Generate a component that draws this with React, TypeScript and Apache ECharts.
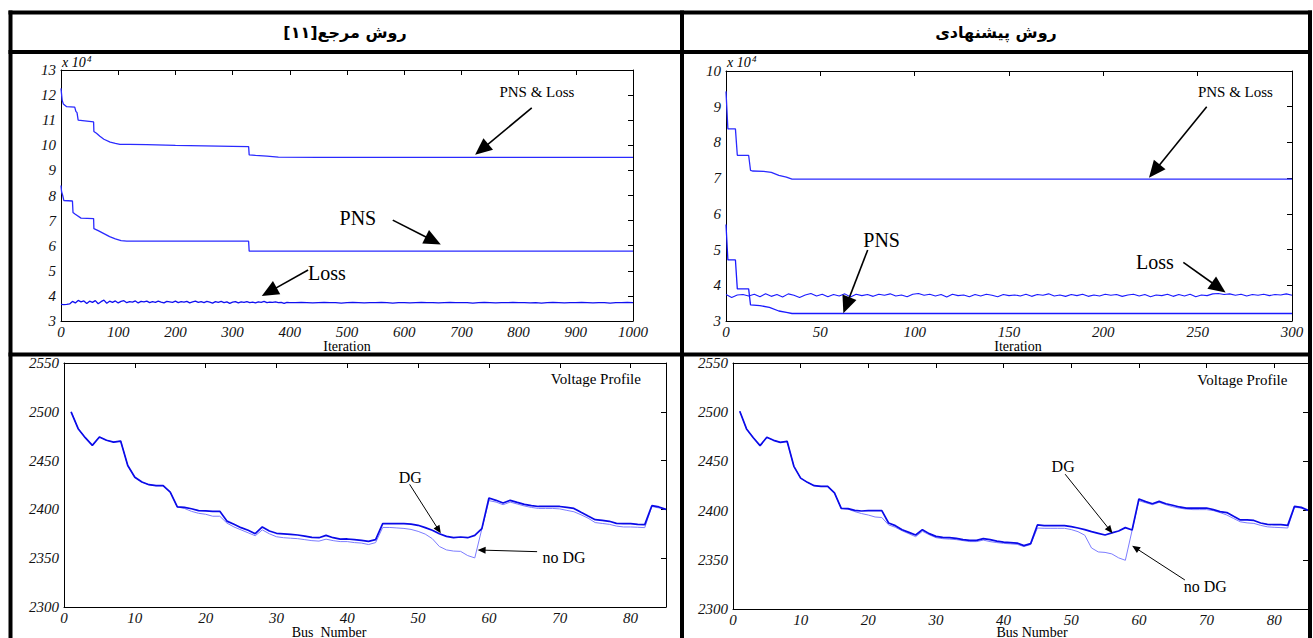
import React, { useEffect, useRef } from "react";
import * as echarts from "echarts";

// ---------- helpers (index generation only) ----------
const range = (a: number, b: number, s: number): number[] => {
  const r: number[] = [];
  for (let v = a; v <= b + 1e-9; v += s) r.push(Math.round(v * 1000) / 1000);
  return r;
};
const zip = (xs: number[], ys: number[]) => xs.map((x, i) => [x, ys[i]]);

// ---------- headers ----------
const headerLeft = "\u202Bروش مرجع[۱۱]\u202C";
const headerRight = "روش پیشنهادی";

// ---------- Top-left: reference method (x 10^4) ----------
const tlTotalIter = [0, 2, 4, 10, 24, 26, 28, 30, 57, 57.5, 62, 68, 75, 86, 95, 103, 120, 150, 200, 250, 300, 328, 329, 340, 360, 380, 450, 1000];
const tlTotalVal = [12.27, 11.8, 11.65, 11.54, 11.52, 11.35, 11.3, 11.0, 10.93, 10.55, 10.48, 10.36, 10.24, 10.13, 10.08, 10.04, 10.04, 10.03, 10.0, 9.98, 9.96, 9.95, 9.62, 9.6, 9.57, 9.53, 9.52, 9.52];
const tlPnsIter = [0, 1, 3, 5, 20, 21, 25, 35, 57, 57.5, 65, 75, 85, 95, 105, 115, 150, 328, 329, 1000];
const tlPnsVal = [8.4, 8.15, 8.0, 7.8, 7.78, 7.32, 7.25, 7.1, 7.08, 6.68, 6.6, 6.48, 6.36, 6.27, 6.2, 6.18, 6.18, 6.18, 5.78, 5.78];
const tlLossIter = [...range(0, 400, 5), ...range(410, 1000, 10)];
const tlLossVal = [
  3.66, 3.65, 3.66, 3.68, 3.78, 3.72, 3.82, 3.76, 3.80, 3.70,
  3.79, 3.74, 3.81, 3.69, 3.77, 3.83, 3.71, 3.79, 3.74, 3.80,
  3.72, 3.78, 3.81, 3.73, 3.77, 3.75, 3.80, 3.72, 3.78, 3.76,
  3.79, 3.73, 3.77, 3.74, 3.79, 3.75, 3.72, 3.78, 3.76, 3.74,
  3.79, 3.73, 3.77, 3.75, 3.78, 3.72, 3.76, 3.79, 3.74, 3.77,
  3.73, 3.78, 3.75, 3.71, 3.77, 3.74, 3.78, 3.73, 3.76, 3.70,
  3.75, 3.77, 3.72, 3.76, 3.74, 3.77, 3.73, 3.75, 3.72, 3.76,
  3.74, 3.78, 3.73, 3.75, 3.74, 3.76, 3.73, 3.74, 3.70, 3.74,
  3.73,
  3.73, 3.74, 3.73, 3.72, 3.73, 3.74, 3.73, 3.73, 3.71, 3.73,
  3.74, 3.73, 3.72, 3.73, 3.73, 3.74, 3.73, 3.71, 3.73, 3.73,
  3.72, 3.73, 3.74, 3.73, 3.73, 3.72, 3.73, 3.74, 3.73, 3.73,
  3.73, 3.71, 3.73, 3.74, 3.73, 3.72, 3.73, 3.73, 3.74, 3.73,
  3.73, 3.72, 3.73, 3.71, 3.73, 3.74, 3.73, 3.72, 3.73, 3.73,
  3.74, 3.73, 3.72, 3.73, 3.73, 3.71, 3.73, 3.73, 3.74, 3.73,
];

// ---------- Top-right: proposed method (x 10^4) ----------
const trTotalIter = [0, 1, 5, 6, 12, 13, 14, 20, 24, 28, 32, 35, 300];
const trTotalVal = [9.43, 8.38, 8.38, 7.64, 7.64, 7.22, 7.2, 7.19, 7.16, 7.08, 7.03, 6.97, 6.97];
const trPnsIter = [0, 1, 5, 6, 12, 13, 18, 23, 28, 32, 35, 300];
const trPnsVal = [5.7, 4.71, 4.71, 3.9, 3.9, 3.45, 3.43, 3.38, 3.28, 3.24, 3.21, 3.21];
const trLossIter = range(0, 300, 3);
const trLossVal = [
  3.74, 3.66, 3.73, 3.74, 3.70, 3.75, 3.68, 3.76, 3.69, 3.74,
  3.67, 3.76, 3.72, 3.66, 3.73, 3.77, 3.70, 3.75, 3.68, 3.74,
  3.70, 3.76, 3.67, 3.75, 3.71, 3.74, 3.69, 3.75, 3.72, 3.76,
  3.70, 3.73, 3.68, 3.75, 3.77, 3.72, 3.75, 3.70, 3.74, 3.67,
  3.75, 3.71, 3.73, 3.68, 3.74, 3.70, 3.75, 3.72, 3.68, 3.74,
  3.71, 3.73, 3.70, 3.75, 3.69, 3.74, 3.72, 3.76, 3.70, 3.73,
  3.69, 3.74, 3.71, 3.75, 3.69, 3.73, 3.70, 3.75, 3.72, 3.74,
  3.69, 3.73, 3.75, 3.70, 3.74, 3.68, 3.73, 3.71, 3.75, 3.69,
  3.74, 3.70, 3.75, 3.68, 3.73, 3.71, 3.76, 3.77, 3.74, 3.76,
  3.72, 3.75, 3.70, 3.74, 3.72, 3.75, 3.71, 3.74, 3.73, 3.76,
  3.72,
];

// ---------- Voltage profiles ----------
const buses = range(1, 85, 1);
const blDG = [
  2500, 2482.7, 2473.5, 2465.6, 2474.2, 2470.8, 2469, 2470, 2445, 2433,
  2428, 2425.3, 2424.3, 2424.3, 2417.8, 2402.5, 2402, 2400.7, 2398.7, 2398.4,
  2398, 2398, 2388, 2384.7, 2381.3, 2378.6, 2375.1, 2382, 2377.9, 2375.5,
  2375, 2374.5, 2373.8, 2372.7, 2371.4, 2371, 2373.4, 2371, 2369.5, 2369.7,
  2369, 2368.3, 2367.3, 2369, 2385.4, 2385.4, 2385.4, 2385.4, 2385, 2383.7,
  2381.3, 2378.6, 2375.1, 2372.4, 2371, 2371.7, 2371, 2373.4, 2380.3, 2411.7,
  2409.3, 2406.6, 2409.3, 2407.2, 2405.2, 2403.8, 2403, 2403, 2403, 2403,
  2402, 2401, 2397, 2393.2, 2389.5, 2388.8, 2387.8, 2385.7, 2385.4, 2385.4,
  2384.7, 2384.4, 2403.8, 2402.5, 2400,
];
const blNoDG = [
  2500, 2482.7, 2473.5, 2465.6, 2474.2, 2470.8, 2469, 2470, 2445, 2433,
  2428, 2425.3, 2424.3, 2424.3, 2417.8, 2402.5, 2401, 2398, 2396, 2395,
  2393, 2393, 2386, 2382, 2379, 2376, 2373, 2379, 2375, 2372,
  2371, 2370.5, 2370, 2369, 2368, 2367.5, 2369.5, 2368, 2367, 2367,
  2366, 2365.5, 2364, 2366, 2381.5, 2381.5, 2381, 2380.5, 2379.5, 2377.5,
  2374.7, 2370, 2362, 2358.5, 2357.3, 2357, 2352.7, 2350.3, 2380, 2409,
  2407.5, 2404.8, 2407.5, 2405.5, 2403.5, 2402, 2401, 2401, 2401, 2400.5,
  2399, 2397.6, 2394.5, 2391, 2386.5, 2385.6, 2384.7, 2382.9, 2382, 2382,
  2381.7, 2381.3, 2403, 2401.5, 2400,
];
const brDG = [
  2501, 2483, 2474, 2466, 2474.5, 2471.4, 2469.4, 2470.4, 2445, 2433,
  2428.7, 2425.3, 2424.6, 2424.6, 2418, 2402.3, 2402, 2400.3, 2399.6, 2400,
  2400, 2400, 2387.4, 2384.7, 2380.6, 2377.9, 2375.2, 2380.6, 2376.6, 2373.8,
  2372.8, 2372.5, 2371.8, 2370.5, 2369.8, 2369.8, 2371.5, 2370.5, 2369, 2368,
  2367.5, 2367, 2364.4, 2366.4, 2385.4, 2384.7, 2384.7, 2384.7, 2384.7, 2383.7,
  2382.3, 2380.7, 2378.6, 2376.9, 2375.2, 2377.3, 2379.3, 2382.7, 2380.3, 2411.8,
  2409.1, 2407, 2409.4, 2407, 2405.4, 2403.7, 2402.6, 2402.6, 2402.6, 2402.6,
  2401, 2399, 2398, 2394.2, 2390.5, 2390.5, 2390, 2387.4, 2386, 2385.7,
  2385.7, 2385, 2404.3, 2403.3, 2400.3,
];
const brNoDG = [
  2501, 2483, 2474, 2466, 2474.5, 2471.4, 2469.4, 2470.4, 2445, 2433,
  2428.7, 2425.3, 2424.6, 2424.6, 2418, 2402.3, 2401.5, 2399, 2397, 2395.5,
  2393.5, 2393, 2385.5, 2383, 2379.5, 2376.5, 2373.5, 2379, 2375.5, 2372.5,
  2371.5, 2371, 2370.5, 2369.5, 2368.5, 2368.5, 2370, 2368.5, 2367.5, 2366.7,
  2366.2, 2365.7, 2363.5, 2365.5, 2382.3, 2382, 2382, 2382, 2382, 2380.7,
  2378.6, 2375, 2362, 2358, 2357.5, 2356, 2352, 2349.5, 2380, 2410,
  2408, 2406, 2408.4, 2406, 2404, 2402.5, 2401.5, 2401, 2401, 2401,
  2400, 2398, 2395.5, 2392, 2388.6, 2387.5, 2387, 2385, 2383.5, 2383,
  2382.7, 2382.3, 2403.5, 2402.5, 2400,
];

// ---------- annotations (data coordinates) ----------
const notes = [
  { grid: 0, text: "PNS & Loss", at: [832, 12.12], size: 15 },
  { grid: 0, text: "PNS", at: [519, 7.1], size: 20 },
  { grid: 0, text: "Loss", at: [465, 4.91], size: 20 },
  { grid: 1, text: "PNS & Loss", at: [270, 9.4], size: 15 },
  { grid: 1, text: "PNS", at: [82.5, 5.27], size: 20 },
  { grid: 1, text: "Loss", at: [227.3, 4.66], size: 20 },
  { grid: 2, text: "Voltage Profile", at: [75.1, 2533.3], size: 15 },
  { grid: 2, text: "DG", at: [48.9, 2432.5], size: 16 },
  { grid: 2, text: "no DG", at: [70.6, 2351], size: 16 },
  { grid: 3, text: "Voltage Profile", at: [75.3, 2532.7], size: 15 },
  { grid: 3, text: "DG", at: [48.8, 2444.6], size: 16 },
  { grid: 3, text: "no DG", at: [69.8, 2322.7], size: 16 },
];
const arrows = [
  { grid: 0, from: [823, 11.49], to: [724, 9.62], big: true },
  { grid: 0, from: [580, 7.02], to: [664, 6.05], big: true },
  { grid: 0, from: [432, 5.03], to: [351, 4.0], big: true },
  { grid: 1, from: [254.8, 9.0], to: [224.2, 7.01], big: true },
  { grid: 1, from: [75.1, 4.99], to: [62.2, 3.22], big: true },
  { grid: 1, from: [242.4, 4.64], to: [264.8, 3.8], big: true },
  { grid: 2, from: [48.8, 2425.7], to: [53.2, 2375.5], big: false },
  { grid: 2, from: [66.8, 2356.7], to: [58.4, 2358.4], big: false },
  { grid: 3, from: [49.1, 2437], to: [56.1, 2376.9], big: false },
  { grid: 3, from: [66.8, 2329.5], to: [59.0, 2364.3], big: false },
];

// ---------- styling ----------
const SERIF = "Liberation Serif";
const axisFont = { fontFamily: SERIF, fontStyle: "italic", fontSize: 15, color: "#111" };
const grids = [
  { left: 61, top: 70, width: 572, height: 251 },
  { left: 726, top: 71, width: 566, height: 250 },
  { left: 64, top: 363, width: 602, height: 244 },
  { left: 733, top: 363, width: 575, height: 246 },
];
const xSpec = [
  { min: 0, max: 1000, interval: 100 },
  { min: 0, max: 300, interval: 50 },
  { min: 0, max: 85, interval: 10 },
  { min: 0, max: 85, interval: 10 },
];
const ySpec = [
  { min: 3, max: 13, interval: 1 },
  { min: 3, max: 10, interval: 1 },
  { min: 2300, max: 2550, interval: 50 },
  { min: 2300, max: 2550, interval: 50 },
];

const line = { show: true, onZero: false, lineStyle: { color: "#000", width: 1 } };
const plain = (v: number) => String(v);

function buildOption() {
  const xAxis: any[] = [];
  const yAxis: any[] = [];
  for (let g = 0; g < 4; g++) {
    xAxis.push({
      type: "value", gridIndex: g, position: "bottom", ...xSpec[g],
      axisLine: line, axisTick: { show: false }, splitLine: { show: false },
      axisLabel: { ...axisFont, margin: 3, showMaxLabel: g < 2, formatter: plain },
    });
    yAxis.push({
      type: "value", gridIndex: g, position: "left", ...ySpec[g],
      axisLine: line, axisTick: { show: false }, splitLine: { show: false },
      axisLabel: { ...axisFont, margin: 5, formatter: plain },
    });
  }
  for (let g = 0; g < 4; g++) {
    xAxis.push({
      type: "value", gridIndex: g, position: "top", ...xSpec[g],
      axisLine: line, axisTick: { show: true, inside: true, length: 5, lineStyle: { color: "#000" } },
      axisLabel: { show: false }, splitLine: { show: false },
    });
    yAxis.push({
      type: "value", gridIndex: g, position: "right", ...ySpec[g],
      axisLine: line, axisTick: { show: true, inside: true, length: 5, lineStyle: { color: "#000" } },
      axisLabel: { show: false }, splitLine: { show: false },
    });
  }
  const mk = (g: number, data: number[][], color: string, width: number) => ({
    type: "line", xAxisIndex: g, yAxisIndex: g, data, showSymbol: false, symbol: "none",
    lineStyle: { color, width }, itemStyle: { color }, silent: true, z: 3,
  });
  const series = [
    mk(0, zip(tlTotalIter, tlTotalVal), "#2a2aff", 1.3),
    mk(0, zip(tlPnsIter, tlPnsVal), "#2a2aff", 1.3),
    mk(0, zip(tlLossIter, tlLossVal), "#1010f0", 1.3),
    mk(1, zip(trTotalIter, trTotalVal), "#2a2aff", 1.3),
    mk(1, zip(trPnsIter, trPnsVal), "#1a1aff", 1.3),
    mk(1, zip(trLossIter, trLossVal), "#1a1aff", 1.1),
    mk(2, zip(buses, blNoDG), "#7c7cff", 1),
    mk(2, zip(buses, blDG), "#0a0ae8", 1.7),
    mk(3, zip(buses, brNoDG), "#7c7cff", 1),
    mk(3, zip(buses, brDG), "#0a0ae8", 1.7),
  ];
  return {
    animation: false,
    backgroundColor: "#fff",
    grid: grids.map((g) => ({ ...g, containLabel: false, show: false })),
    xAxis, yAxis, series,
  };
}

function txt(text: string, x: number, y: number, size: number, opts: any = {}) {
  return {
    type: "text", x, y, z: 100, silent: true,
    style: {
      text, fill: "#000", fontSize: size, fontFamily: opts.family || SERIF,
      fontStyle: opts.italic ? "italic" : "normal", fontWeight: opts.bold ? "bold" : "normal",
      align: opts.align || "center", verticalAlign: opts.valign || "middle",
      textAlign: opts.align || "center", textVerticalAlign: opts.valign || "middle",
    },
  };
}
function hline(x1: number, x2: number, y: number) {
  return { type: "line", z: 110, silent: true, shape: { x1, y1: y, x2, y2: y }, style: { stroke: "#000", lineWidth: 4 } };
}
function vline(x: number, y1: number, y2: number) {
  return { type: "line", z: 110, silent: true, shape: { x1: x, y1, x2: x, y2 }, style: { stroke: "#000", lineWidth: 4 } };
}

function staticGraphics() {
  return [
    hline(8.5, 1312, 12.5), hline(8.5, 1312, 52), hline(8.5, 1312, 354.5),
    vline(10.5, 10.5, 640), vline(682, 10.5, 640), vline(1310, 10.5, 640),
    txt(headerLeft, 345, 32, 16, { bold: true, family: "DejaVu Sans" }),
    txt(headerRight, 996, 32, 16, { bold: true, family: "DejaVu Sans" }),
    txt("Iteration", 347, 346, 14),
    txt("Iteration", 1018, 346, 14),
    txt("Bus\u00A0 Number", 329, 632, 14),
    txt("Bus Number", 1032, 632, 14),
    txt("x 10", 62, 69, 14, { italic: true, align: "left", valign: "bottom" }),
    txt("4", 87, 63, 9, { italic: true, align: "left", valign: "bottom" }),
    txt("x 10", 727, 69, 14, { italic: true, align: "left", valign: "bottom" }),
    txt("4", 752, 63, 9, { italic: true, align: "left", valign: "bottom" }),
  ];
}

function arrowEls(p0: number[], p1: number[], big: boolean) {
  const len = big ? 17 : 8;
  const half = big ? 7.5 : 3.5;
  const w = big ? 1.6 : 1;
  const dx = p1[0] - p0[0];
  const dy = p1[1] - p0[1];
  const d = Math.hypot(dx, dy) || 1;
  const ux = dx / d, uy = dy / d, nx = -uy, ny = ux;
  const bx = p1[0] - ux * len, by = p1[1] - uy * len;
  return [
    { type: "line", z: 100, silent: true, shape: { x1: p0[0], y1: p0[1], x2: bx + ux * 2, y2: by + uy * 2 }, style: { stroke: "#000", lineWidth: w } },
    { type: "polygon", z: 100, silent: true, shape: { points: [[p1[0], p1[1]], [bx + nx * half, by + ny * half], [bx - nx * half, by - ny * half]] }, style: { fill: "#000" } },
  ];
}

export default function App() {
  const ref = useRef<HTMLDivElement>(null);
  useEffect(() => {
    if (!ref.current) return;
    const chart = echarts.init(ref.current, null, { renderer: "svg" });
    chart.setOption(buildOption() as any);
    const toPx = (g: number, p: number[]) => chart.convertToPixel({ xAxisIndex: g, yAxisIndex: g } as any, p) as number[];
    const dyn: any[] = [];
    notes.forEach((n) => {
      const p = toPx(n.grid, n.at);
      dyn.push(txt(n.text, p[0], p[1], n.size));
    });
    arrows.forEach((a) => {
      dyn.push(...arrowEls(toPx(a.grid, a.from), toPx(a.grid, a.to), a.big));
    });
    chart.setOption({ graphic: { elements: [...staticGraphics(), ...dyn] } } as any);
    return () => chart.dispose();
  }, []);
  return (
    <div
      ref={ref}
      style={{ position: "absolute", left: 0, top: 0, width: 1313, height: 638, background: "#fff" }}
    />
  );
}
